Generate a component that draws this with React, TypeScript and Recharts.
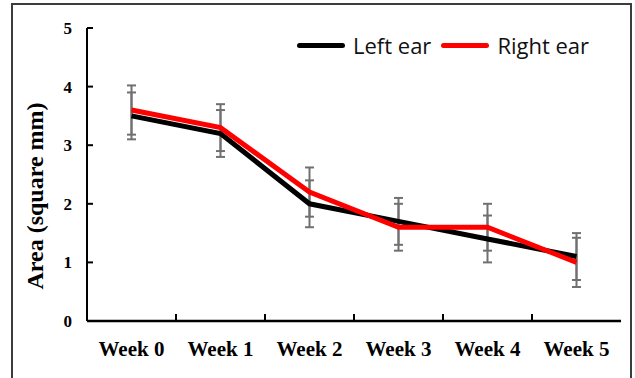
import { LineChart, Line, XAxis, YAxis, ErrorBar, Legend } from "recharts";

const weeks = ["Week 0", "Week 1", "Week 2", "Week 3", "Week 4", "Week 5"];
const leftEar = [3.5, 3.2, 2.0, 1.7, 1.4, 1.1];
const rightEar = [3.6, 3.3, 2.2, 1.6, 1.6, 1.0];
const leftErr = [0.4, 0.4, 0.4, 0.4, 0.4, 0.4];
const rightErr = [0.42, 0.4, 0.42, 0.4, 0.4, 0.42];
const yTicks = [0, 1, 2, 3, 4, 5];

const data = weeks.map((week, i) => ({
  week,
  left: leftEar[i],
  right: rightEar[i],
  leftErr: leftErr[i],
  rightErr: rightErr[i],
}));

const serif = "'Liberation Serif', 'Times New Roman', serif";
const TICK_GAP = 20;
const TICK_LEN = 7;

// label at the band centre, plus a short inward tick on the band's left edge
const WeekTick = (props: any) => {
  const { x, y, payload, index, width, visibleTicksCount } = props;
  const half = payload?.offset ? payload.offset : width / visibleTicksCount / 2;
  const axisY = y - TICK_GAP;
  return (
    <g>
      {index > 0 && (
        <line x1={x - half} x2={x - half} y1={axisY} y2={axisY - TICK_LEN} stroke="#000" strokeWidth={2} />
      )}
      <text
        x={x}
        y={y}
        dy="0.71em"
        textAnchor="middle"
        fill="#000"
        fontFamily={serif}
        fontWeight={700}
        fontSize={21}
      >
        {payload.value}
      </text>
    </g>
  );
};

const LegendContent = ({ payload }: any) => (
  <div
    style={{
      display: "flex",
      alignItems: "center",
      whiteSpace: "nowrap",
      fontFamily: "'Open Sans', sans-serif",
      fontSize: 22,
    }}
  >
    {(payload || [])
      .filter((entry: any) => entry.type !== "none" && entry.color !== "none")
      .map((entry: any, i: number) => (
        <div key={i} style={{ display: "flex", alignItems: "center", marginRight: 10 }}>
          <div style={{ width: 48, height: 5, borderRadius: 3, background: entry.color, marginRight: 8 }} />
          <span style={{ color: "#111" }}>{entry.value}</span>
        </div>
      ))}
  </div>
);

const YLabel = () => (
  <text
    x={35}
    y={196}
    transform="rotate(-90 35 196)"
    textAnchor="middle"
    dominantBaseline="central"
    fill="#000"
    fontFamily={serif}
    fontWeight={700}
    fontSize={24}
  >
    Area (square mm)
  </text>
);

export default function App() {
  return (
    <div style={{ position: "fixed", left: 0, top: 0, width: 635, height: 378, background: "#fff", overflow: "hidden" }}>
      <div
        style={{
          position: "absolute",
          left: 11,
          top: 3,
          width: 621,
          height: 400,
          border: "2px solid #3c3c3c",
          boxSizing: "border-box",
        }}
      />
      <div style={{ position: "absolute", left: 0, top: 0 }}>
        <LineChart width={635} height={378} data={data} margin={{ top: 28, right: 14, bottom: 0, left: 0 }}>
          <XAxis
            dataKey="week"
            scale="band"
            height={57}
            interval={0}
            axisLine={{ stroke: "#000", strokeWidth: 2.5 }}
            tickLine={false}
            tickSize={0}
            tickMargin={TICK_GAP}
            tick={WeekTick}
          />
          <YAxis
            width={87}
            domain={[0, 5]}
            ticks={yTicks}
            axisLine={{ stroke: "#000", strokeWidth: 2 }}
            tickLine={{ stroke: "#000", strokeWidth: 2 }}
            tickSize={-6}
            tickMargin={21}
            tick={{ fill: "#000", fontFamily: serif, fontWeight: 700, fontSize: 17 }}
            label={{ content: YLabel }}
          />
          <Legend
            layout="horizontal"
            verticalAlign="middle"
            align="center"
            wrapperStyle={{ top: 30, left: 297, width: "auto" }}
            content={LegendContent}
          />
          <Line dataKey="left" stroke="none" dot={false} activeDot={false} legendType="none" isAnimationActive={false}>
            <ErrorBar dataKey="leftErr" width={4.5} stroke="#707070" strokeWidth={2} />
          </Line>
          <Line dataKey="right" stroke="none" dot={false} activeDot={false} legendType="none" isAnimationActive={false}>
            <ErrorBar dataKey="rightErr" width={4.5} stroke="#707070" strokeWidth={2} />
          </Line>
          <Line
            name="Left ear"
            dataKey="left"
            stroke="#000"
            strokeWidth={5}
            dot={false}
            activeDot={false}
            isAnimationActive={false}
          />
          <Line
            name="Right ear"
            dataKey="right"
            stroke="#ff0000"
            strokeWidth={5}
            dot={false}
            activeDot={false}
            isAnimationActive={false}
          />
        </LineChart>
      </div>
    </div>
  );
}
